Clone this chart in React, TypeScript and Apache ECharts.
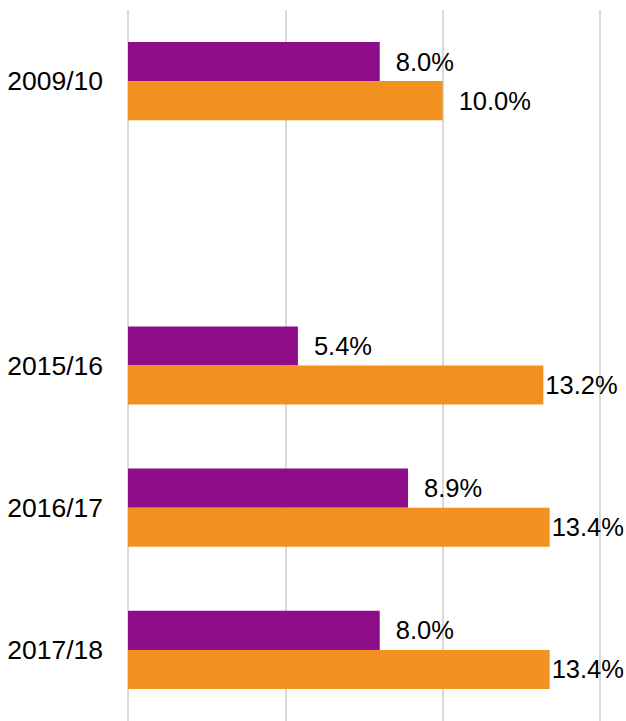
import React, { useEffect, useRef } from "react";
import * as echarts from "echarts";

const categories = ["2009/10", "", "2015/16", "2016/17", "2017/18"];
const purpleValues: (number | null)[] = [8.0, null, 5.4, 8.9, 8.0];
const orangeValues: (number | null)[] = [10.0, null, 13.2, 13.4, 13.4];
const xTicks = [0, 5, 10, 15];

const FONT = "'Liberation Sans', Arial, sans-serif";

function toData(values: (number | null)[]) {
  return values.map((v) =>
    v == null
      ? null
      : { value: v, label: { distance: v > 12 ? 2 : 16 } }
  );
}

export default function App() {
  const ref = useRef<HTMLDivElement>(null);
  useEffect(() => {
    if (!ref.current) return;
    const chart = echarts.init(ref.current, undefined, { renderer: "svg" });
    const labelCfg = {
      show: true,
      position: "right" as const,
      color: "#000",
      fontSize: 25.5,
      fontFamily: FONT,
      formatter: (p: any) => Number(p.value).toFixed(1) + "%",
    };
    chart.setOption({
      animation: false,
      backgroundColor: "#fff",
      grid: { left: 128, right: 26, top: 10, height: 714, containLabel: false },
      xAxis: {
        type: "value",
        min: xTicks[0],
        max: xTicks[xTicks.length - 1],
        interval: 5,
        axisLabel: { show: false },
        axisLine: { show: false },
        axisTick: { show: false },
        splitLine: { show: true, lineStyle: { color: "#d9d9d9", width: 2 } },
      },
      yAxis: {
        type: "category",
        data: categories,
        inverse: true,
        axisLine: { show: false },
        axisTick: { show: false },
        splitLine: { show: false },
        axisLabel: {
          color: "#000",
          fontSize: 26.5,
          fontFamily: FONT,
          margin: 25,
        },
      },
      series: [
        {
          name: "Purple",
          type: "bar",
          data: toData(purpleValues),
          itemStyle: { color: "#8E0E8A" },
          barGap: "0%",
          barCategoryGap: "45%",
          label: labelCfg,
        },
        {
          name: "Orange",
          type: "bar",
          data: toData(orangeValues),
          itemStyle: { color: "#F29020" },
          barGap: "0%",
          barCategoryGap: "45%",
          label: labelCfg,
        },
      ],
    });
    return () => chart.dispose();
  }, []);
  return (
    <div
      ref={ref}
      style={{ position: "absolute", left: 0, top: 0, width: 626, height: 721 }}
    />
  );
}
